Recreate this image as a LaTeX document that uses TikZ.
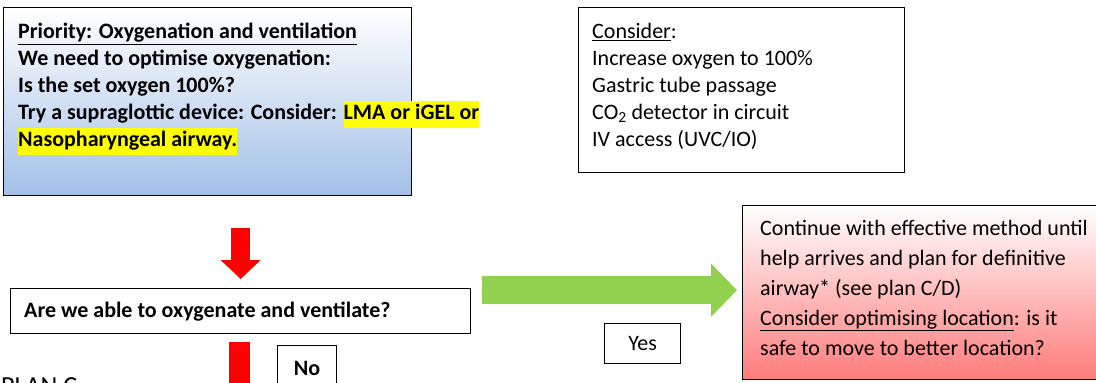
\documentclass[tikz,border=0pt]{standalone}
\usepackage{fontspec}
\setmainfont{Carlito}
\usetikzlibrary{arrows.meta,calc}

\definecolor{boxblue}{HTML}{A3C0E7}
\definecolor{boxred}{HTML}{FF7B7B}
\definecolor{arrowred}{HTML}{FF0000}
\definecolor{arrowgreen}{HTML}{92D050}
\definecolor{hilite}{HTML}{FFFF00}
\newcommand{\hl}[1]{{\setlength{\fboxsep}{0pt}\colorbox{hilite}{\strut #1}}}

\begin{document}
\begin{tikzpicture}[x=1pt,y=-1pt,
    box/.style={draw=black,line width=1.3pt,inner sep=0pt,anchor=north west},
    txt/.style={anchor=north west,inner sep=0pt,align=left},
    big/.style={font=\fontsize{22}{27}\selectfont},
    bigbold/.style={font=\fontsize{22}{27}\selectfont\bfseries},
    redarrow/.style={draw=arrowred,line width=19pt,-{Triangle[width=39pt,length=19pt]}},
    greenarrow/.style={draw=arrowgreen,line width=28pt,-{Triangle[width=52pt,length=26pt]}}]
  \useasboundingbox (0,0) rectangle (1096,383);
  \clip (0,0) rectangle (1096,383);

  % boxes
  \node[box,top color=white,bottom color=boxblue,minimum width=408pt,minimum height=188pt] (prio) at (3,7) {};
  \node[box,fill=white,minimum width=326pt,minimum height=165pt] (cons) at (578,7) {};
  \node[box,fill=white,minimum width=460pt,minimum height=45pt] (q) at (10,288) {};
  \node[box,top color=white,bottom color=boxred,minimum width=368pt,minimum height=174pt] (cont) at (742,205) {};
  \node[box,fill=white,minimum width=76pt,minimum height=40pt,big] (yes) at (604,323) {Yes};
  \node[box,fill=white,minimum width=59pt,minimum height=55pt] (no) at (277,345) {};

  % texts
  \node[txt,bigbold] (priotxt) at ($(prio.north west)+(15,16)$)
    {\underline{Priority: Oxygenation and ventilation}\\
     We need to optimise oxygenation:\\
     Is the set oxygen 100\%?\\
     Try a supraglottic device: Consider: \hl{LMA or iGEL or}\\
     \hl{Nasopharyngeal airway.}};
  \node[txt,big] (constxt) at ($(cons.north west)+(14,16)$)
    {\underline{Consider}:\\
     Increase oxygen to 100\%\\
     Gastric tube passage\\
     CO\textsubscript{2} detector in circuit\\
     IV access (UVC/IO)};
  \node[txt,anchor=west,bigbold] (qtxt) at ($(q.west)+(14,0)$) {Are we able to oxygenate and ventilate?};
  \node[txt,font=\fontsize{22}{30}\selectfont] (conttxt) at ($(cont.north west)+(18,15)$)
    {Continue with effective method until\\
     help arrives and plan for definitive\\
     airway* (see plan C/D)\\
     \underline{Consider optimising location}: is it\\
     safe to move to better location?};
  \node[bigbold] (notxt) at ($(no.north)+(0,23)$) {No};
  \node[txt,font=\fontsize{26}{30}\selectfont] (planc) at (1,377) {PLAN C};

  % arrows
  \draw[redarrow] ($(q.north |- prio.south)+(0,32)$) -- ($(q.north)+(0,-9)$);
  \coordinate (gstart) at ($(q.east)+(11,-21)$);
  \draw[greenarrow,shorten >=5pt] (gstart) -- (gstart -| cont.west);
  \coordinate (down) at ($(q.south)+(-1.5,80)$);
  \draw[draw=arrowred,line width=21pt] ($(q.south)+(-1.5,8)$) -- (down);
\end{tikzpicture}
\end{document}
